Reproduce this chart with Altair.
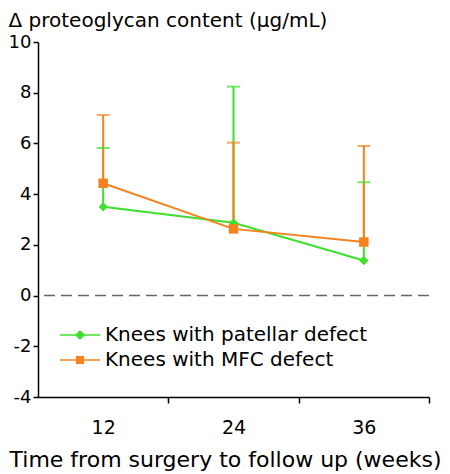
import altair as alt
import pandas as pd

# ---- data ----
weeks = [12, 24, 36]
series_names = ["Knees with patellar defect", "Knees with MFC defect"]
patellar_mean = [3.5, 2.87, 1.38]
patellar_upper = [5.82, 8.24, 4.47]
mfc_mean = [4.43, 2.63, 2.11]
mfc_upper = [7.12, 6.03, 5.9]
zero_line = [0]
y_ticks = [-4, -2, 0, 2, 4, 6, 8, 10]
x_ticks = [12, 24, 36]
x_domain = [6, 42]
y_domain = [-4, 10]

colors = ["#3de02b", "#f5821f"]
marker_shapes = ["diamond", "square"]
FONT = "DejaVu Sans"

rows = []
for name, means, uppers in [
    (series_names[0], patellar_mean, patellar_upper),
    (series_names[1], mfc_mean, mfc_upper),
]:
    for w, m, u in zip(weeks, means, uppers):
        rows.append({"week": w, "series": name, "mean": m, "upper": u})
df = pd.DataFrame(rows)

W, H = 391, 355
band_px = W / (x_domain[1] - x_domain[0]) * 6

x_enc = alt.X(
    "week:Q",
    scale=alt.Scale(domain=x_domain, nice=False, zero=False),
    axis=alt.Axis(
        values=x_ticks, tickOffset=band_px, labelOffset=-band_px,
        tickSize=6, labelPadding=30, labelBaseline="alphabetic",
        labelFontSize=19, labelFlush=False, labelOverlap=False,
        title="Time from surgery to follow up (weeks)",
        titleFontSize=22, titleX=187, titleY=69, titleAlign="center",
        titleBaseline="alphabetic", titleAnchor="start",
    ),
)
y_scale = alt.Scale(domain=y_domain, nice=False, zero=False)
y_axis = alt.Axis(
    values=y_ticks, tickSize=5, labelPadding=2, labelFontSize=18,
    labelOverlap=False, labelFlush=False, labelExpr="'' + datum.value",
    title="Δ proteoglycan content (μg/mL)", titleAngle=0, titleAlign="left",
    titleBaseline="alphabetic", titleX=-30, titleY=-15.3, titleFontSize=20,
    titleAnchor="start",
)
color_scale = alt.Scale(domain=series_names, range=colors)

path_pat = "M-1,0H3M1,-0.4L1.4,0L1,0.4L0.6,0Z"
path_mfc = "M-1,0H3M0.67,-0.33H1.33V0.33H0.67Z"
shape_expr = f"datum.value === '{series_names[0]}' ? '{path_pat}' : '{path_mfc}'"
color_expr = f"datum.value === '{series_names[0]}' ? '{colors[0]}' : '{colors[1]}'"

legend = alt.Legend(
    title=None, orient="none", legendX=21, legendY=282, direction="vertical",
    symbolSize=400, symbolStrokeWidth=1.5, labelFont=FONT, labelFontSize=20,
    labelColor="black", labelOffset=24, rowPadding=4, padding=0, labelLimit=400,
    symbolType={"expr": shape_expr},
    symbolStrokeColor={"expr": color_expr},
    symbolFillColor={"expr": color_expr},
    symbolOpacity=1,
)
color_enc = alt.Color("series:N", scale=color_scale, legend=legend)

base = alt.Chart(df)

zero = alt.Chart(pd.DataFrame({"z": zero_line})).mark_rule(
    color="#666666", strokeWidth=1.5, strokeDash=[11, 6]
).encode(y=alt.Y("z:Q", scale=y_scale, axis=y_axis))

err = base.mark_rule(strokeWidth=2).encode(
    x=x_enc,
    y=alt.Y("mean:Q", scale=y_scale, axis=y_axis),
    y2="upper:Q",
    color=color_enc,
)
caps = base.mark_tick(orient="horizontal", size=13, thickness=2).encode(
    x=x_enc,
    y=alt.Y("upper:Q", scale=y_scale, axis=y_axis),
    color=color_enc,
)
lines = base.mark_line(strokeWidth=2).encode(
    x=x_enc,
    y=alt.Y("mean:Q", scale=y_scale, axis=y_axis),
    color=color_enc,
)
point_layers = []
for name, shp, sz in zip(series_names, marker_shapes, [85, 90]):
    point_layers.append(
        base.transform_filter(alt.datum.series == name)
        .mark_point(filled=True, opacity=1, shape=shp, size=sz)
        .encode(
            x=x_enc,
            y=alt.Y("mean:Q", scale=y_scale, axis=y_axis),
            color=color_enc,
        )
    )

chart = alt.layer(zero, err, caps, lines, *point_layers).properties(
    width=W, height=H,
    autosize=alt.AutoSizeParams(type="none"),
    padding={"left": 30, "top": 34, "right": 13, "bottom": 75},
).configure_view(stroke=None).configure_axis(
    domainColor="black", domainWidth=1.5, tickColor="black", tickWidth=1.5,
    grid=False, labelFont=FONT, labelColor="black", titleFont=FONT,
    titleColor="black", titleFontWeight="normal",
)

chart.save("out.html", embed_options={"renderer": "svg", "actions": False})
